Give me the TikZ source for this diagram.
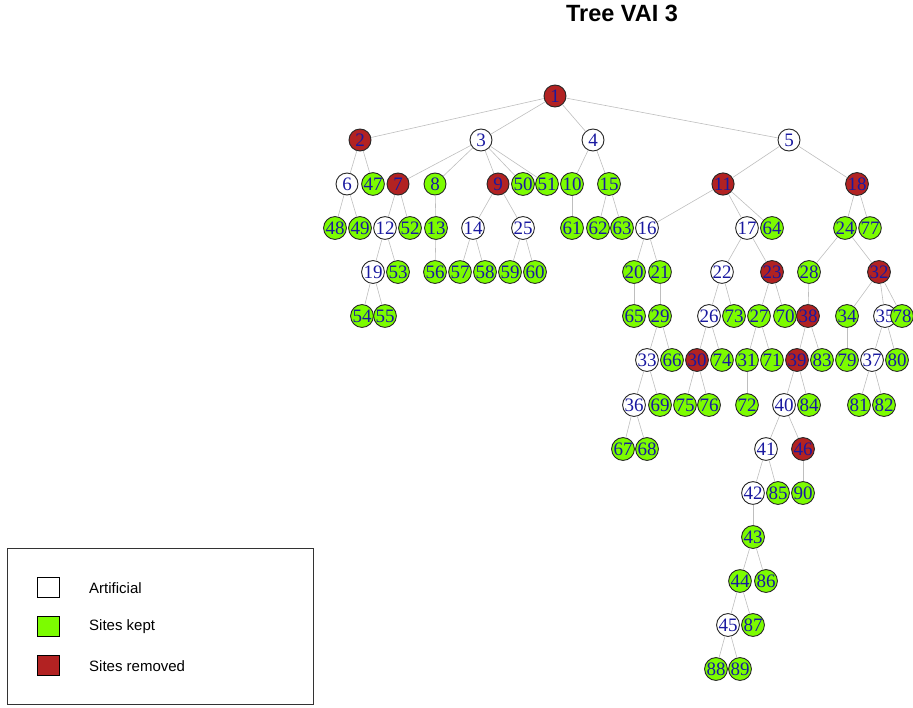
\documentclass[tikz,border=0pt]{standalone}
\usepackage{fontspec}
\setmainfont{Liberation Serif}
\newfontfamily\arialfont{Liberation Sans}
\usepackage{tikz}
\definecolor{firebrick}{RGB}{178,34,34}
\definecolor{lawngreen}{RGB}{124,252,0}
\definecolor{labelblue}{RGB}{25,25,160}
\definecolor{edgegray}{RGB}{190,190,190}
\tikzstyle{site} = [circle, draw=black!85, line width=0.9pt, minimum size=22pt, inner sep=0pt, text=labelblue, font=\fontsize{19}{19}\selectfont]
\tikzstyle{artnode} = [site, fill=white]
\tikzstyle{keptnode} = [site, fill=lawngreen]
\tikzstyle{remnode} = [site, fill=firebrick]
\tikzstyle{edge} = [draw=edgegray, line width=0.6pt]
\tikzstyle{legkey} = [rectangle, draw=black, line width=0.8pt, minimum width=22pt, minimum height=20pt, inner sep=0pt]
\tikzstyle{legtext} = [anchor=west, inner sep=0pt, font=\arialfont\fontsize{15}{15}\selectfont]

\begin{document}
\begin{tikzpicture}[x=1pt, y=-1pt]
\useasboundingbox (0,0) rectangle (913,707);

\node (title) [font=\arialfont\bfseries\fontsize{23.5}{23.5}\selectfont] at (622,13) {Tree VAI 3};

% root and first levels
\node (n1) [remnode] at (555,96) {1};
\node (n2) [remnode] at (360,140) {2};
\node (n3) [artnode] at (481,140) {3};
\node (n4) [artnode] at (593,140) {4};
\node (n5) [artnode] at (789,140) {5};

\node (n6) [artnode] at (347,184) {6};
\node (n47) [keptnode] at (373,184) {47};
\node (n7) [remnode] at (398,184) {7};
\node (n8) [keptnode] at (435,184) {8};
\node (n9) [remnode] at (498,184) {9};
\node (n50) [keptnode] at (523,184) {50};
\node (n51) [keptnode] at (547,184) {51};
\node (n10) [keptnode] at (572,184) {10};
\node (n15) [keptnode] at (609,184) {15};
\node (n11) [remnode] at (723,184) {11};
\node (n18) [remnode] at (857,184) {18};

\node (n48) [keptnode] at (335,228) {48};
\node (n49) [keptnode] at (360,228) {49};
\node (n12) [artnode] at (385,228) {12};
\node (n52) [keptnode] at (410,228) {52};
\node (n13) [keptnode] at (436,228) {13};
\node (n14) [artnode] at (473,228) {14};
\node (n25) [artnode] at (523,228) {25};
\node (n61) [keptnode] at (572,228) {61};
\node (n62) [keptnode] at (598,228) {62};
\node (n63) [keptnode] at (622,228) {63};
\node (n16) [artnode] at (647,228) {16};
\node (n17) [artnode] at (747,228) {17};
\node (n64) [keptnode] at (772,228) {64};
\node (n24) [keptnode] at (845,228) {24};
\node (n77) [keptnode] at (870,228) {77};

\node (n19) [artnode] at (373,272) {19};
\node (n53) [keptnode] at (398,272) {53};
\node (n56) [keptnode] at (435,272) {56};
\node (n57) [keptnode] at (460,272) {57};
\node (n58) [keptnode] at (485,272) {58};
\node (n59) [keptnode] at (510,272) {59};
\node (n60) [keptnode] at (535,272) {60};
\node (n20) [keptnode] at (634,272) {20};
\node (n21) [keptnode] at (660,272) {21};
\node (n22) [artnode] at (722,272) {22};
\node (n23) [remnode] at (772,272) {23};
\node (n28) [keptnode] at (809,272) {28};
\node (n32) [remnode] at (879,272) {32};

\node (n54) [keptnode] at (362,316) {54};
\node (n55) [keptnode] at (385,316) {55};
\node (n65) [keptnode] at (634,316) {65};
\node (n29) [keptnode] at (660,316) {29};
\node (n26) [artnode] at (709,316) {26};
\node (n73) [keptnode] at (734,316) {73};
\node (n27) [keptnode] at (759,316) {27};
\node (n70) [keptnode] at (785,316) {70};
\node (n38) [remnode] at (808,316) {38};
\node (n34) [keptnode] at (847,316) {34};
\node (n35) [artnode] at (885,316) {35};
\node (n78) [keptnode] at (902,316) {78};

\node (n33) [artnode] at (647,360) {33};
\node (n66) [keptnode] at (672,360) {66};
\node (n30) [remnode] at (697,360) {30};
\node (n74) [keptnode] at (722,360) {74};
\node (n31) [keptnode] at (747,360) {31};
\node (n71) [keptnode] at (772,360) {71};
\node (n39) [remnode] at (797,360) {39};
\node (n83) [keptnode] at (822,360) {83};
\node (n79) [keptnode] at (847,360) {79};
\node (n37) [artnode] at (872,360) {37};
\node (n80) [keptnode] at (897,360) {80};

\node (n36) [artnode] at (634,405) {36};
\node (n69) [keptnode] at (660,405) {69};
\node (n75) [keptnode] at (685,405) {75};
\node (n76) [keptnode] at (709,405) {76};
\node (n72) [keptnode] at (747,405) {72};
\node (n40) [artnode] at (784,405) {40};
\node (n84) [keptnode] at (809,405) {84};
\node (n81) [keptnode] at (859,405) {81};
\node (n82) [keptnode] at (884,405) {82};

\node (n67) [keptnode] at (623,449) {67};
\node (n68) [keptnode] at (647,449) {68};
\node (n41) [artnode] at (766,449) {41};
\node (n46) [remnode] at (803,449) {46};

\node (n42) [artnode] at (753,493) {42};
\node (n85) [keptnode] at (778,493) {85};
\node (n90) [keptnode] at (803,493) {90};
\node (n43) [keptnode] at (753,537) {43};
\node (n44) [keptnode] at (740,581) {44};
\node (n86) [keptnode] at (766,581) {86};
\node (n45) [artnode] at (728,625) {45};
\node (n87) [keptnode] at (753,625) {87};
\node (n88) [keptnode] at (716,669) {88};
\node (n89) [keptnode] at (740,669) {89};

% edges parent -> children
\draw [edge] (n1) -- (n2) (n1) -- (n3) (n1) -- (n4) (n1) -- (n5);
\draw [edge] (n2) -- (n6) (n2) -- (n47);
\draw [edge] (n3) -- (n7) (n3) -- (n8) (n3) -- (n9) (n3) -- (n50) (n3) -- (n51);
\draw [edge] (n4) -- (n10) (n4) -- (n15);
\draw [edge] (n5) -- (n11) (n5) -- (n18);
\draw [edge] (n6) -- (n48) (n6) -- (n49);
\draw [edge] (n7) -- (n12) (n7) -- (n52);
\draw [edge] (n8) -- (n13);
\draw [edge] (n9) -- (n14) (n9) -- (n25);
\draw [edge] (n10) -- (n61);
\draw [edge] (n15) -- (n62) (n15) -- (n63);
\draw [edge] (n11) -- (n16) (n11) -- (n17) (n11) -- (n64);
\draw [edge] (n18) -- (n24) (n18) -- (n77);
\draw [edge] (n12) -- (n19) (n12) -- (n53);
\draw [edge] (n13) -- (n56);
\draw [edge] (n14) -- (n57) (n14) -- (n58);
\draw [edge] (n25) -- (n59) (n25) -- (n60);
\draw [edge] (n16) -- (n20) (n16) -- (n21);
\draw [edge] (n17) -- (n22) (n17) -- (n23);
\draw [edge] (n24) -- (n28) (n24) -- (n32);
\draw [edge] (n19) -- (n54) (n19) -- (n55);
\draw [edge] (n20) -- (n65);
\draw [edge] (n21) -- (n29);
\draw [edge] (n22) -- (n26) (n22) -- (n73);
\draw [edge] (n23) -- (n27) (n23) -- (n70);
\draw [edge] (n28) -- (n38);
\draw [edge] (n32) -- (n34) (n32) -- (n35) (n32) -- (n78);
\draw [edge] (n29) -- (n33) (n29) -- (n66);
\draw [edge] (n26) -- (n30) (n26) -- (n74);
\draw [edge] (n27) -- (n31) (n27) -- (n71);
\draw [edge] (n38) -- (n39) (n38) -- (n83);
\draw [edge] (n34) -- (n79);
\draw [edge] (n35) -- (n37) (n35) -- (n80);
\draw [edge] (n33) -- (n36) (n33) -- (n69);
\draw [edge] (n30) -- (n75) (n30) -- (n76);
\draw [edge] (n31) -- (n72);
\draw [edge] (n39) -- (n40) (n39) -- (n84);
\draw [edge] (n37) -- (n81) (n37) -- (n82);
\draw [edge] (n36) -- (n67) (n36) -- (n68);
\draw [edge] (n40) -- (n41) (n40) -- (n46);
\draw [edge] (n41) -- (n42) (n41) -- (n85);
\draw [edge] (n46) -- (n90);
\draw [edge] (n42) -- (n43);
\draw [edge] (n43) -- (n44) (n43) -- (n86);
\draw [edge] (n44) -- (n45) (n44) -- (n87);
\draw [edge] (n45) -- (n88) (n45) -- (n89);

% legend
\draw [black!80, line width=0.8pt] (7,548) rectangle (313,704);
\node (keyart) [legkey, fill=white] at (48,587) {};
\node (keykept) [legkey, fill=lawngreen] at (48,626) {};
\node (keyrem) [legkey, fill=firebrick] at (48,665) {};
\node (txtart) [legtext] at (89,588) {Artificial};
\node (txtkept) [legtext] at (89,627) {Sites kept};
\node (txtrem) [legtext] at (89,666) {Sites removed};

\end{tikzpicture}
\end{document}
